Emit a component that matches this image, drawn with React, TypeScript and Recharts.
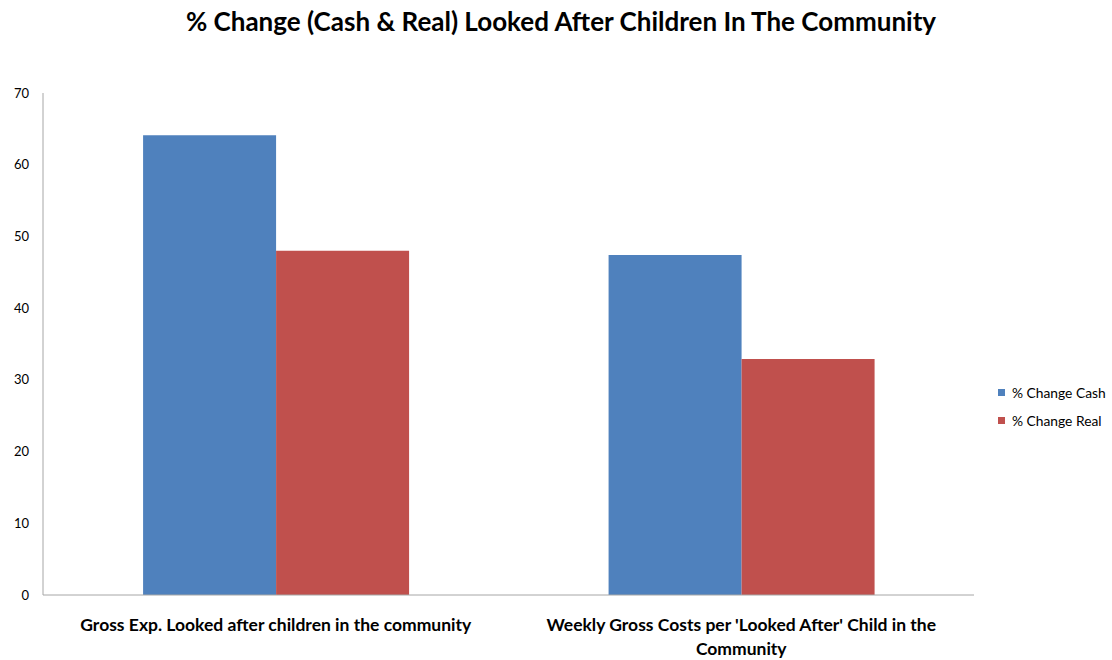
import React from 'react';
import { BarChart, Bar, XAxis, YAxis, Legend, Text } from 'recharts';

const categories = [
  'Gross Exp. Looked after children in the community',
  "Weekly Gross Costs per 'Looked After' Child in the Community",
];
const cashChange = [64.1, 47.4];
const realChange = [48.0, 32.9];
const yTicks = [0, 10, 20, 30, 40, 50, 60, 70];
const seriesNames = ['% Change Cash', '% Change Real'];
const seriesColors = ['#4F81BD', '#C0504D'];

const data = categories.map((name, i) => ({
  name,
  cash: cashChange[i],
  real: realChange[i],
}));

const FONT = 'Lato, "Open Sans", sans-serif';
const tickStyle = { fontSize: 17.5, fontWeight: 'bold' as const, fontFamily: FONT };

const CategoryTick = (props: any) => {
  const { x, y, payload } = props;
  return (
    <Text
      x={x}
      y={y + 16}
      width={430}
      textAnchor="middle"
      verticalAnchor="start"
      lineHeight={24}
      style={tickStyle}
      fontSize={17.5}
      fontWeight="bold"
      fontFamily={FONT}
      fill="#000"
    >
      {payload.value}
    </Text>
  );
};

const LegendContent = () => (
  <div style={{ fontFamily: FONT, fontSize: 13.8, color: '#000' }}>
    {seriesNames.map((n, i) => (
      <div key={n} style={{ display: 'flex', alignItems: 'center', height: 28 }}>
        <span
          style={{
            display: 'inline-block',
            width: 7,
            height: 7,
            background: seriesColors[i],
            marginRight: 7,
          }}
        />
        <span>{n}</span>
      </div>
    ))}
  </div>
);

export default function App() {
  return (
    <div style={{ position: 'absolute', left: 0, top: 0, width: 1112, height: 660, background: '#fff' }}>
      <div
        style={{
          position: 'absolute',
          left: 0,
          top: 5,
          width: 1122,
          textAlign: 'center',
          fontFamily: FONT,
          fontWeight: 'bold',
          fontSize: 26,
          color: '#000',
        }}
      >
        % Change (Cash &amp; Real) Looked After Children In The Community
      </div>
      <BarChart
        width={1112}
        height={660}
        data={data}
        margin={{ top: 93, right: 138, bottom: 0, left: 0 }}
        barCategoryGap="21.5%"
        barGap={0}
      >
        <YAxis
          width={43}
          domain={[0, 70]}
          ticks={yTicks}
          interval={0}
          tickLine={false}
          tickSize={6}
          tickMargin={8}
          axisLine={{ stroke: '#A6A6A6' }}
          tick={{ fill: '#000', fontSize: 13, fontFamily: FONT }}
        />
        <XAxis
          dataKey="name"
          height={65}
          tickLine={false}
          axisLine={{ stroke: '#A6A6A6' }}
          tick={<CategoryTick />}
          interval={0}
        />
        <Legend
          layout="vertical"
          align="center"
          verticalAlign="middle"
          content={<LegendContent />}
          wrapperStyle={{ left: 998, top: 378, width: 114 }}
        />
        <Bar dataKey="cash" name={seriesNames[0]} fill={seriesColors[0]} isAnimationActive={false} />
        <Bar dataKey="real" name={seriesNames[1]} fill={seriesColors[1]} isAnimationActive={false} />
      </BarChart>
    </div>
  );
}
